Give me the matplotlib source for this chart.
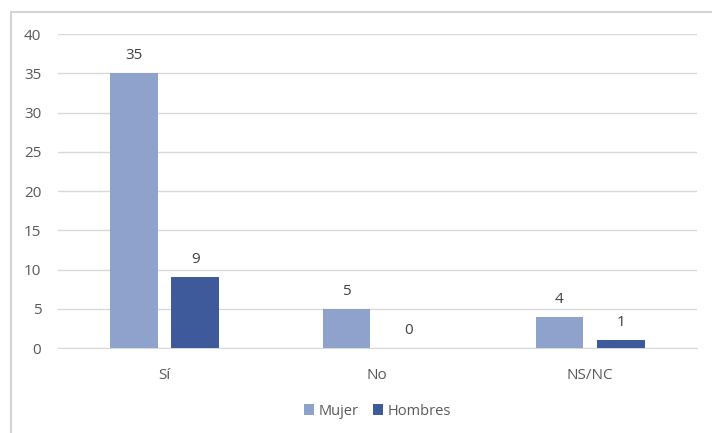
import matplotlib.pyplot as plt
import numpy as np
from matplotlib.patches import Rectangle

categorias = ["Sí", "No", "NS/NC"]
mujer = [35, 5, 4]
hombres = [9, 0, 1]
yticks = [0, 5, 10, 15, 20, 25, 30, 35, 40]

plt.rcParams["font.family"] = ["Open Sans", "DejaVu Sans"]

fig = plt.figure(figsize=(7.12, 4.33), dpi=100)
ax = fig.add_axes([0.0815, 0.196, 0.897, 0.725])

# marco gris del gráfico (cortado a la derecha y abajo)
fig.patches.append(Rectangle((11 / 712, -10 / 433), 720 / 712, 431 / 433,
                             transform=fig.transFigure, fill=False,
                             edgecolor="#d4d4d4", linewidth=1.5))

x = np.arange(len(categorias))
w = 0.224
gap = 0.065
c_m = "#8fa2cb"
c_h = "#3f5a9a"
b1 = ax.bar(x - (w + gap) / 2, mujer, w, color=c_m, label="Mujer", zorder=3)
b2 = ax.bar(x + (w + gap) / 2, hombres, w, color=c_h, label="Hombres", zorder=3)

for bars, vals in [(b1, mujer), (b2, hombres)]:
    for b, v in zip(bars, vals):
        ax.text(b.get_x() + b.get_width() / 2, v + 1.3, str(v),
                ha="center", va="bottom", fontsize=11, color="#404040")

ax.set_xlim(-0.5, 2.5)
ax.set_ylim(0, 40)
ax.set_yticks(yticks)
ax.set_xticks(x)
ax.set_xticklabels(categorias)
ax.yaxis.grid(True, color="#d9d9d9", linewidth=1, zorder=0)
for s in ax.spines.values():
    s.set_visible(False)
ax.spines["bottom"].set_visible(True)
ax.spines["bottom"].set_color("#d9d9d9")
ax.tick_params(axis="both", length=0, labelsize=11, colors="#595959")
ax.tick_params(axis="x", pad=14)
ax.tick_params(axis="y", pad=12)

ax.legend(loc="upper center", bbox_to_anchor=(0.5, -0.135), ncol=2,
          frameon=False, fontsize=10.5, handlelength=0.7, handleheight=0.7,
          handletextpad=0.3, columnspacing=1.0, labelcolor="#595959")

fig.savefig("out.png", dpi=100)
